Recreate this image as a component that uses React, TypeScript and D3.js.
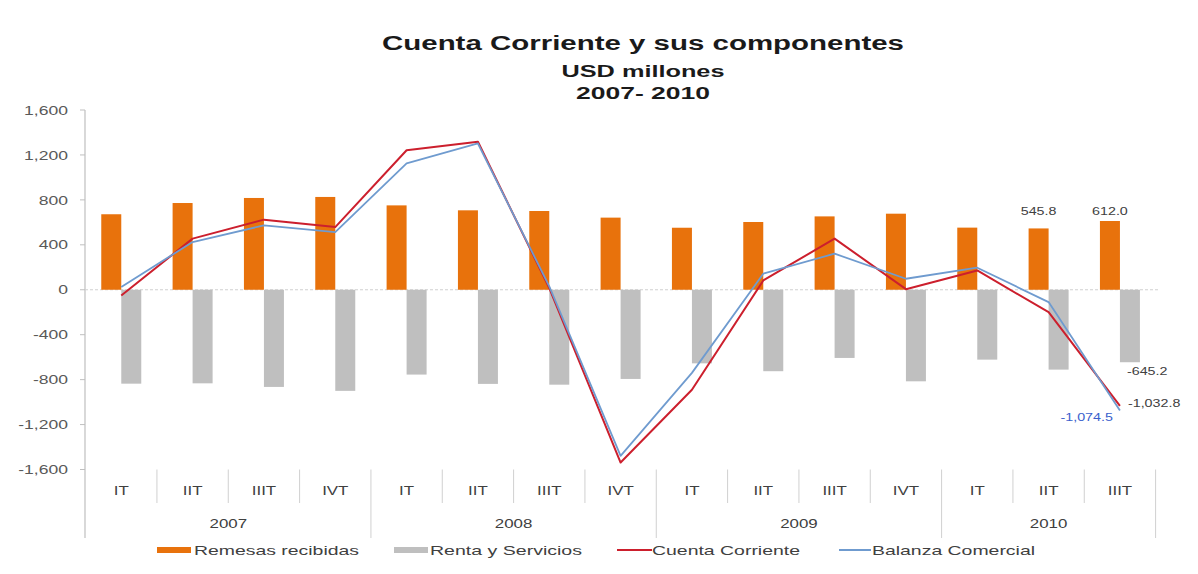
import React from "react";
import * as d3 from "d3";

const quarters = ["IT", "IIT", "IIIT", "IVT", "IT", "IIT", "IIIT", "IVT", "IT", "IIT", "IIIT", "IVT", "IT", "IIT", "IIIT"];
const years = ["2007", "2008", "2009", "2010"];
const yearSpans = [4, 4, 4, 3];
const remesas = [672, 772, 817, 826, 751, 707, 701, 642, 552, 603, 653, 677, 553, 545.8, 612.0];
const renta = [-836, -833, -865, -900, -755, -838, -845, -794, -655, -725, -607, -815, -622, -711, -645.2];
const cuenta = [-51, 455, 624, 558, 1242, 1317, 15, -1538, -890, 83, 455, 5, 172, -200, -1032.8];
const balanza = [25, 425, 573, 513, 1124, 1302, 30, -1478, -740, 143, 321, 98, 196, -110, -1074.5];
const yTicks = [1600, 1200, 800, 400, 0, -400, -800, -1200, -1600];
const legendNames = ["Remesas recibidas", "Renta y Servicios", "Cuenta Corriente", "Balanza Comercial"];

const ORANGE = "#E8720C";
const GRAY = "#BFBFBF";
const RED = "#CC1F2D";
const BLUE = "#6F9BCF";
const TXT = "#404040";
const FONT = "Liberation Sans, Arial, sans-serif";

function ST(props: any) {
  const { x, y, sx = 1.32, anchor = "start", size = 13, fill = TXT, weight = "normal", children } = props;
  return (
    <text
      transform={`translate(${x},${y}) scale(${sx},1)`}
      textAnchor={anchor}
      dominantBaseline="central"
      fontSize={size}
      fill={fill}
      fontWeight={weight}
      fontFamily={FONT}
    >
      {children}
    </text>
  );
}

export default function App() {
  const W = 1198, H = 574;
  const idx = quarters.map((_, i) => i);
  const x = d3.scaleBand<number>().domain(idx).range([85.6, 1155.6]).padding(0);
  const cx = (i: number) => (x(i) as number) + x.bandwidth() / 2;
  const y = d3.scaleLinear().domain([-1600, 1600]).range([469.5, 110]);
  const sub = d3.scaleBand<string>().domain(["rem", "ren"]).range([-20, 20]);
  const fmt = (v: number) => d3.format(",")(v).replace("\u2212", "-");
  const fmt1 = (v: number) => d3.format(",.1f")(v).replace("\u2212", "-");

  const line = d3.line<number>().x((_, i) => cx(i)).y((v) => y(v));

  const top = 469.5;
  // year boundaries
  const yearBounds: number[] = [];
  let acc = 0;
  yearSpans.forEach((s) => { yearBounds.push(acc); acc += s; });
  yearBounds.push(acc);

  const last = quarters.length - 1;
  const labelTopY = Math.min(y(remesas[last - 1]), y(remesas[last])) - 10;

  return (
    <svg width={W} height={H} style={{ position: "absolute", left: 0, top: 0, background: "#fff" }}>
      <rect width={W} height={H} fill="#fff" />
      {/* title */}
      <text x={643} y={50} textAnchor="middle" fontSize={19.5} fontWeight="bold" fontFamily={FONT} fill="#1a1a1a" textLength={522} lengthAdjust="spacingAndGlyphs">Cuenta Corriente y sus componentes</text>
      <text x={643} y={77} textAnchor="middle" fontSize={17} fontWeight="bold" fontFamily={FONT} fill="#1a1a1a" textLength={163} lengthAdjust="spacingAndGlyphs">USD millones</text>
      <text x={643} y={99} textAnchor="middle" fontSize={17} fontWeight="bold" fontFamily={FONT} fill="#1a1a1a" textLength={134} lengthAdjust="spacingAndGlyphs">2007- 2010</text>

      {/* y axis */}
      <line x1={85} x2={85} y1={110} y2={538} stroke="#BFBFBF" strokeWidth={1.2} />
      {yTicks.map((t) => (
        <g key={t}>
          <line x1={80} x2={85} y1={y(t)} y2={y(t)} stroke="#BFBFBF" />
          <ST x={68} y={y(t)} anchor="end" size={13} sx={1.35} fill="#595959">{fmt(t)}</ST>
        </g>
      ))}

      {/* zero line */}
      <line x1={85} x2={1160} y1={y(0)} y2={y(0)} stroke="#D0D0D0" strokeWidth={1} strokeDasharray="3,2" />

      {/* bars */}
      {remesas.map((v, i) => (
        <rect key={"r" + i} x={cx(i) + (sub("rem") as number)} width={sub.bandwidth()} y={y(Math.max(0, v))} height={Math.abs(y(v) - y(0))} fill={ORANGE} />
      ))}
      {renta.map((v, i) => (
        <rect key={"g" + i} x={cx(i) + (sub("ren") as number)} width={sub.bandwidth()} y={y(Math.max(0, v))} height={Math.abs(y(v) - y(0))} fill={GRAY} />
      ))}

      {/* lines */}
      <path d={line(cuenta) as string} fill="none" stroke={RED} strokeWidth={2} strokeLinejoin="round" />
      <path d={line(balanza) as string} fill="none" stroke={BLUE} strokeWidth={1.8} strokeLinejoin="round" />

      {/* data labels */}
      <ST x={cx(last - 1) - 10} y={labelTopY} anchor="middle" size={11} sx={1.3}>{fmt1(remesas[last - 1])}</ST>
      <ST x={cx(last) - 10} y={labelTopY} anchor="middle" size={11} sx={1.3}>{fmt1(remesas[last])}</ST>
      <ST x={cx(last) + 7} y={y(renta[last]) + 9} size={11} sx={1.3}>{fmt1(renta[last])}</ST>
      <ST x={cx(last) + 8} y={y(cuenta[last]) - 3} size={11} sx={1.3}>{fmt1(cuenta[last])}</ST>
      <ST x={cx(last) - 7} y={y(balanza[last]) + 7} anchor="end" size={11} sx={1.3} fill="#3A5FCD">{fmt1(balanza[last])}</ST>

      {/* category axis */}
      {idx.slice(1).map((i) => {
        const bx = x(i) as number;
        const isYear = yearBounds.includes(i);
        return <line key={"s" + i} x1={bx} x2={bx} y1={top} y2={isYear ? 538 : 503} stroke="#D0D0D0" strokeWidth={1} />;
      })}
      <line x1={1155.6} x2={1155.6} y1={top} y2={538} stroke="#D0D0D0" strokeWidth={1} />
      {quarters.map((q, i) => (
        <ST key={"q" + i} x={cx(i)} y={490} anchor="middle" size={13} sx={1.3}>{q}</ST>
      ))}
      {years.map((yr, k) => {
        const a = x(yearBounds[k]) as number;
        const b = (x(yearBounds[k + 1] - 1) as number) + x.bandwidth();
        return <ST key={yr} x={(a + b) / 2} y={523} anchor="middle" size={13} sx={1.3}>{yr}</ST>;
      })}

      {/* legend */}
      <rect x={157} y={547} width={34} height={6} fill={ORANGE} />
      <text x={194} y={550} dominantBaseline="central" fontSize={13} fill={TXT} fontFamily={FONT} textLength={165} lengthAdjust="spacingAndGlyphs">{legendNames[0]}</text>
      <rect x={394} y={547} width={34} height={6} fill={GRAY} />
      <text x={430} y={550} dominantBaseline="central" fontSize={13} fill={TXT} fontFamily={FONT} textLength={152} lengthAdjust="spacingAndGlyphs">{legendNames[1]}</text>
      <line x1={617} x2={652} y1={550} y2={550} stroke={RED} strokeWidth={2} />
      <text x={652} y={550} dominantBaseline="central" fontSize={13} fill={TXT} fontFamily={FONT} textLength={148} lengthAdjust="spacingAndGlyphs">{legendNames[2]}</text>
      <line x1={839} x2={871} y1={550} y2={550} stroke={BLUE} strokeWidth={2} />
      <text x={872} y={550} dominantBaseline="central" fontSize={13} fill={TXT} fontFamily={FONT} textLength={163} lengthAdjust="spacingAndGlyphs">{legendNames[3]}</text>
    </svg>
  );
}
